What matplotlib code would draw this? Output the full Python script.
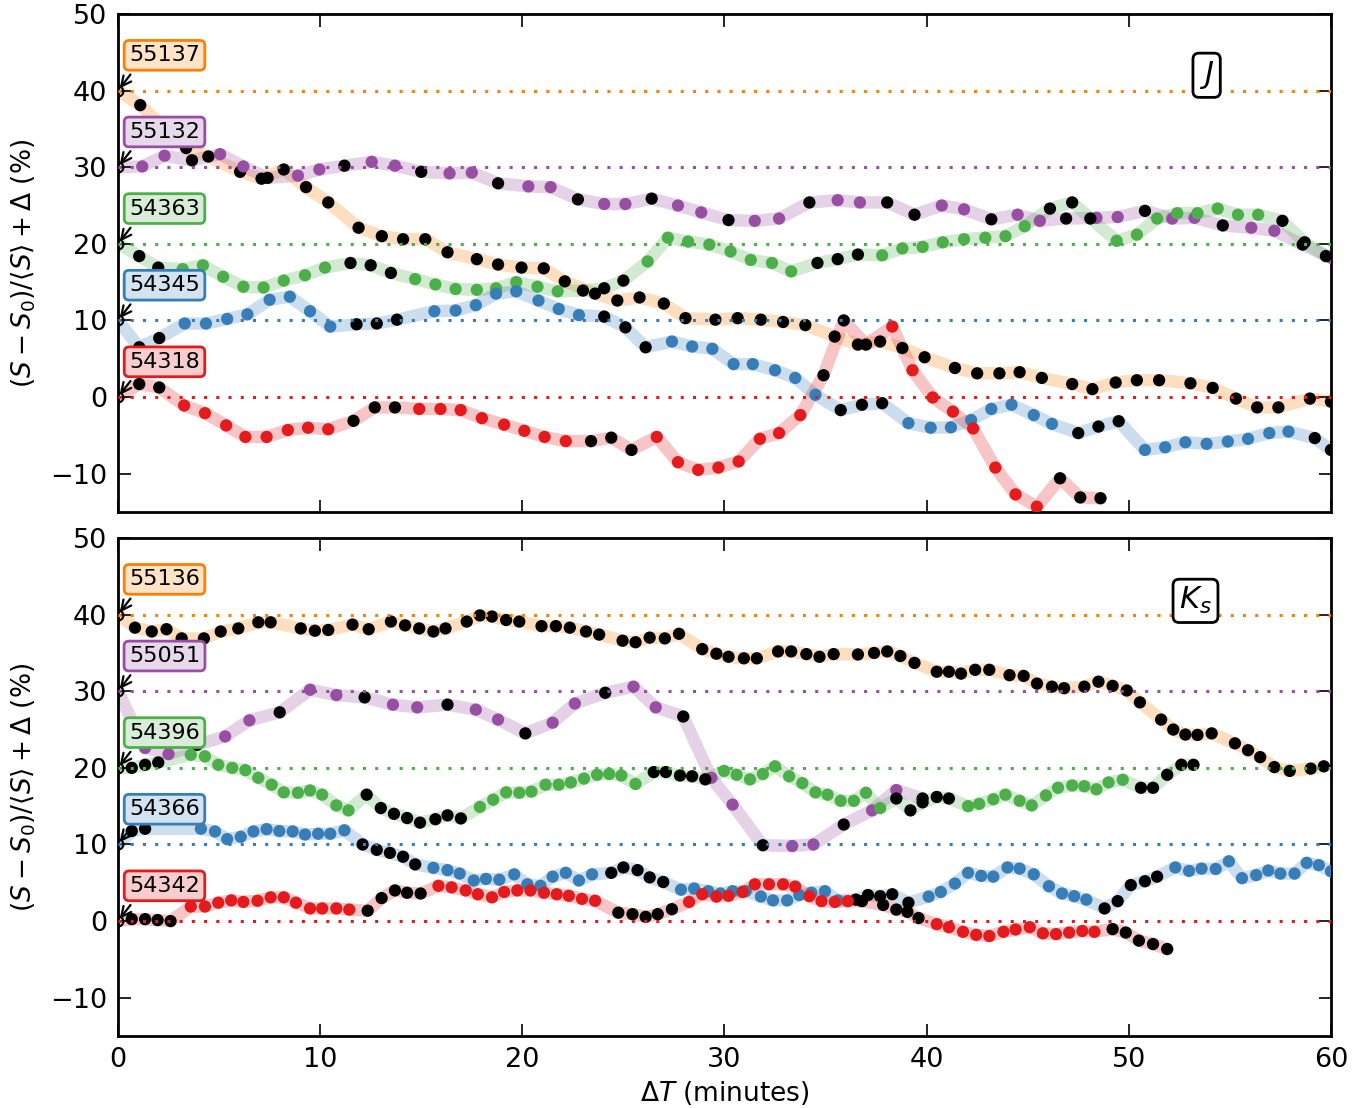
import matplotlib

matplotlib.use("Agg")
import matplotlib.pyplot as plt
from matplotlib.colors import to_rgb

# Set1-like colours
RED, BLUE, GREEN, PURPLE, ORANGE = "#e41a1c", "#377eb8", "#4daf4a", "#984ea3", "#ff7f00"

# ---- J band ----------------------------------------------------------------
j_orange_t = [0, 1.1, 3.37, 4.47, 6.04, 7.1, 8.2, 9.3, 10.4, 11.9, 13.05, 14.1, 15.2, 16.3, 17.75,
              18.8, 19.96, 21.06, 22.1, 23.6, 24.7, 25.8, 27.0, 28.07, 29.55, 30.65, 31.8, 32.9, 34.0,
              35.45, 36.6, 37.7, 38.8, 39.9, 41.4, 42.5, 43.6, 44.6, 45.7, 47.2, 48.2, 49.35, 50.4,
              51.5, 53.05, 54.15, 55.3, 56.35, 57.4, 58.96, 60]
j_orange_y = [40, 38.1, 32.5, 31.4, 29.4, 28.5, 29.7, 27.4, 25.4, 22.1, 21.0, 20.6, 20.6, 18.9, 18.0,
              17.3, 16.9, 16.8, 15.1, 13.5, 12.6, 13.0, 12.2, 10.3, 10.1, 10.3, 10.1, 9.8, 9.4,
              7.9, 6.85, 7.25, 6.4, 5.2, 3.8, 3.1, 3.1, 3.25, 2.5, 1.7, 1.04, 1.9, 2.2,
              2.2, 1.8, 1.2, -0.2, -1.35, -1.35, -0.2, -0.6]
j_orange_f = "o" + "k" * 50

j_purple_t = [0, 1.2, 2.3, 3.66, 5.05, 6.2, 7.4, 8.9, 9.96, 11.2, 12.55, 13.7, 15.0, 16.4, 17.5, 18.8,
              20.3, 21.4, 22.75, 24.05, 25.1, 26.4, 27.7, 28.85, 30.2, 31.5, 32.7, 34.2, 35.6, 36.7,
              38.05, 39.4, 40.75, 41.85, 43.2, 44.5, 45.6, 46.9, 48.4, 49.45, 50.8, 52.15, 53.25,
              54.65, 56.06, 57.2, 58.6, 60]
j_purple_y = [30, 30.1, 31.5, 30.9, 31.7, 30.1, 28.6, 28.9, 29.7, 30.2, 30.7, 30.2, 29.4, 29.2, 29.3, 27.9,
              27.5, 27.4, 25.8, 25.2, 25.2, 25.9, 25.0, 24.1, 23.1, 23.0, 23.3, 25.4, 25.7, 25.4,
              25.4, 23.8, 25.0, 24.5, 23.2, 23.8, 23.0, 23.3, 23.4, 23.5, 24.3, 23.3, 23.4,
              22.4, 22.1, 21.7, 19.9, 18.2]
j_purple_f = "occkcckcckcckcckcckcckcckcckcckkcckcckcckcckcckc"

j_green_t = [0, 1.05, 1.99, 3.2, 4.2, 5.2, 6.2, 7.2, 8.2, 9.25, 10.24, 11.5, 12.5, 13.5, 14.7, 15.7,
             16.7, 17.75, 18.7, 19.7, 20.75, 21.75, 23.0, 24.05, 25.0, 26.2, 27.2, 28.2, 29.25, 30.3,
             31.3, 32.35, 33.3, 34.6, 35.6, 36.6, 37.8, 38.8, 39.8, 40.8, 41.85, 42.9, 43.9, 44.85,
             46.1, 47.2, 48.1, 49.4, 50.4, 51.4, 52.4, 53.4, 54.4, 55.4, 56.4, 57.6, 58.7, 59.75]
j_green_y = [20, 18.4, 16.9, 16.7, 17.2, 15.7, 14.4, 14.3, 15.2, 15.9, 16.9, 17.5, 17.2, 16.2, 15.4, 14.7,
             14.1, 14.0, 14.2, 15.0, 14.4, 13.8, 13.9, 14.2, 15.2, 17.7, 20.8, 20.3, 19.9, 19.0,
             17.9, 17.5, 16.4, 17.5, 18.0, 18.6, 18.5, 19.4, 19.6, 20.2, 20.6, 20.8, 21.0, 22.3,
             24.6, 25.4, 23.3, 20.4, 21.2, 23.3, 24.0, 24.0, 24.6, 23.8, 23.8, 23.0, 20.2, 18.4]
j_green_f = "okk" + "cccccccckkk" * 5

j_blue_t = [0, 1.05, 2.04, 3.3, 4.35, 5.4, 6.4, 7.5, 8.5, 9.5, 10.5, 11.8, 12.8, 13.8, 15.65, 16.7,
            17.7, 18.7, 19.7, 20.8, 21.8, 22.8, 24.05, 25.1, 26.1, 27.4, 28.4, 29.4, 30.45, 31.4,
            32.5, 33.5, 34.5, 35.75, 36.8, 37.8, 39.1, 40.2, 41.2, 42.2, 43.2, 44.2, 45.3, 46.2,
            47.5, 48.5, 49.5, 50.8, 51.8, 52.8, 53.85, 54.9, 55.9, 56.95, 57.9, 59.2, 60]
j_blue_y = [10, 6.5, 7.7, 9.6, 9.6, 10.2, 10.8, 12.7, 13.1, 11.2, 9.2, 9.5, 9.6, 10.1, 11.2, 11.3,
            12.0, 13.5, 13.8, 12.6, 11.5, 10.7, 10.5, 9.1, 6.5, 7.25, 6.6, 6.3, 4.3, 4.3,
            3.5, 2.5, 0.3, -1.7, -1.0, -0.8, -3.4, -4.0, -3.95, -3.0, -1.55, -1.0, -2.35, -3.5,
            -4.7, -3.85, -3.15, -6.9, -6.55, -5.9, -6.1, -5.8, -5.45, -4.7, -4.5, -5.35, -6.9]
j_blue_f = "okk" + "cccccccckkk" * 4 + "cccccccckk"

j_red_t = [0, 1.05, 2.04, 3.27, 4.3, 5.35, 6.3, 7.35, 8.4, 9.4, 10.4, 11.65, 12.7, 13.7, 14.9, 15.95,
           16.95, 18.0, 19.1, 20.1, 21.1, 22.15, 23.4, 24.4, 25.4, 26.65, 27.7, 28.7, 29.7, 30.7,
           31.75, 32.7, 33.75, 34.9, 35.9, 37.0, 38.3, 39.3, 40.3, 41.3, 42.3, 43.4, 44.4, 45.45,
           46.6, 47.6, 48.6]
j_red_y = [0, 1.7, 1.25, -1.1, -2.1, -3.7, -5.2, -5.2, -4.3, -4.0, -4.2, -3.1, -1.35, -1.35, -1.55, -1.55,
           -1.7, -2.75, -3.6, -4.4, -5.2, -5.75, -5.75, -5.3, -6.9, -5.2, -8.5, -9.5, -9.2, -8.4,
           -5.45, -4.7, -2.35, 2.85, 10.0, 6.85, 9.2, 3.5, -0.05, -1.9, -4.1, -9.2, -12.7, -14.3,
           -10.6, -13.1, -13.2]
j_red_f = "okk" + "cccccccckkk" * 4

# ---- Ks band ---------------------------------------------------------------
k_orange_t = [0, 0.84, 1.67, 2.4, 3.15, 4.25, 5.08, 5.95, 6.94, 7.55, 9.04, 9.74, 10.4, 11.6, 12.4,
              13.5, 14.2, 14.9, 15.6, 16.2, 17.25, 17.9, 18.5, 19.2, 19.85, 20.95, 21.66, 22.35, 23.15,
              23.8, 24.96, 25.6, 26.3, 27.05, 27.75, 28.9, 29.6, 30.2, 30.96, 31.6, 32.65, 33.3, 34.05,
              34.7, 35.4, 36.6, 37.4, 38.05, 38.7, 39.4, 40.5, 41.1, 41.7, 42.4, 43.1, 44.1, 44.8,
              45.46, 46.2, 46.8, 47.8, 48.5, 49.2, 49.9, 50.55, 51.6, 52.2, 52.8, 53.4, 54.1, 55.25,
              55.9, 56.5, 57.2, 57.96, 59.0, 59.65]
k_orange_y = [40, 38.3, 37.8, 38.1, 36.9, 36.9, 37.8, 38.2, 39.0, 39.0, 38.2, 37.9, 38.0, 38.7, 38.1,
              39.1, 38.6, 38.2, 37.8, 38.2, 39.1, 39.9, 39.75, 39.3, 39.1, 38.5, 38.5, 38.3, 37.8,
              37.4, 36.6, 36.4, 37.0, 36.9, 37.5, 35.5, 34.9, 34.5, 34.3, 34.3, 35.2, 35.2, 34.85,
              34.5, 34.85, 34.8, 35.0, 35.2, 34.6, 33.7, 32.55, 32.55, 32.3, 32.8, 32.8, 32.1, 32.0,
              31.0, 30.6, 30.4, 30.6, 31.25, 30.7, 30.1, 28.55, 26.3, 25.0, 24.35, 24.3, 24.5, 23.2,
              22.3, 21.4, 20.1, 19.6, 19.9, 20.2]
k_orange_f = "o" + "k" * 76

k_purple_t = [0, 1.34, 2.5, 3.9, 5.3, 6.5, 8.0, 9.5, 10.8, 12.2, 13.6, 14.8, 16.3, 17.7, 18.8, 20.15,
              21.5, 22.6, 24.1, 25.5, 26.6, 27.96, 29.35, 30.4, 31.9, 33.35, 34.4, 35.9, 37.3, 38.5,
              39.8]
k_purple_y = [30, 22.6, 21.8, 23.0, 24.1, 26.2, 27.25, 30.2, 29.5, 29.2, 28.25, 27.9, 28.25, 27.6, 26.3,
              24.5, 25.9, 28.4, 29.8, 30.6, 27.9, 26.7, 18.7, 15.2, 9.9, 9.8, 10.0, 12.6, 14.45, 17.1,
              16.0]
k_purple_f = "o" + "cck" * 10

k_green_t = [0, 0.68, 1.34, 1.99, 3.6, 4.3, 4.96, 5.65, 6.3, 6.94, 7.6, 8.2, 8.9, 9.5, 10.1, 10.8,
             11.4, 12.3, 13.0, 13.65, 14.3, 14.94, 15.7, 16.3, 16.96, 17.9, 18.56, 19.2, 19.85, 20.45,
             21.15, 21.8, 22.4, 23.05, 23.7, 24.3, 24.9, 25.6, 26.5, 27.1, 27.8, 28.4, 29.05, 29.98,
             30.6, 31.26, 31.9, 32.5, 33.2, 33.85, 34.5, 35.1, 35.75, 36.4, 37.0, 37.7, 38.5, 39.2,
             39.8, 40.5, 41.1, 42.05, 42.6, 43.3, 43.9, 44.6, 45.2, 45.9, 46.5, 47.2, 47.8, 48.4,
             49.0, 49.7, 50.6, 51.2, 51.9, 52.6, 53.2]
k_green_y = [20, 20.0, 20.4, 20.7, 21.7, 21.5, 20.4, 20.0, 19.7, 18.7, 17.8, 16.8, 16.75, 17.05, 16.5, 15.1,
             14.45, 16.5, 14.75, 14.0, 13.45, 12.85, 13.3, 13.8, 13.4, 14.9, 15.85, 16.8, 16.75, 16.9,
             17.8, 17.8, 18.1, 18.6, 19.1, 19.2, 19.0, 17.9, 19.45, 19.45, 19.0, 18.9, 18.5, 19.6,
             19.1, 18.5, 19.2, 20.2, 18.9, 18.0, 16.8, 16.5, 15.7, 15.7, 16.75, 14.75, 16.0, 14.45,
             15.5, 16.2, 16.0, 15.0, 15.3, 15.9, 16.5, 15.7, 15.1, 16.4, 17.4, 17.7, 17.6, 17.2,
             18.1, 18.45, 17.4, 17.4, 19.1, 20.4, 20.4]
k_green_f = ("okkk" + "c" * 13 + "k" * 8 + "c" * 13 + "k" * 5 + "c" * 13 + "k" * 5
             + "c" * 13 + "k" * 5)

k_blue_t = [0, 0.68, 1.34, 4.1, 4.8, 5.4, 6.07, 6.7, 7.35, 7.98, 8.64, 9.25, 9.9, 10.5, 11.2, 12.1,
            12.8, 13.45, 14.1, 14.7, 15.6, 16.3, 16.9, 17.6, 18.2, 18.86, 19.6, 20.25, 20.9, 21.5,
            22.15, 22.8, 23.45, 24.4, 25.0, 25.7, 26.3, 26.97, 27.85, 28.5, 29.2, 29.8, 30.4, 31.05,
            31.8, 32.4, 33.1, 33.7, 34.3, 34.97, 35.6, 36.5, 37.1, 37.7, 38.3, 39.1, 40.1, 40.7,
            41.4, 42.05, 42.7, 43.3, 44.0, 44.6, 45.3, 46.05, 46.7, 47.3, 47.9, 48.8, 49.45, 50.1,
            50.8, 51.4, 52.3, 52.98, 53.6, 54.3, 54.95, 55.6, 56.3, 56.9, 57.5, 58.2, 58.8, 59.4, 60]
k_blue_y = [10, 11.75, 12.05, 12.05, 11.7, 10.7, 11.0, 11.7, 12.0, 11.75, 11.7, 11.3, 11.4, 11.4, 11.85, 10.0,
            9.3, 8.9, 8.4, 7.4, 6.95, 6.65, 6.2, 5.3, 5.5, 5.4, 6.1, 4.8, 4.6, 5.8,
            6.3, 5.3, 6.1, 6.3, 7.0, 6.65, 5.7, 5.1, 4.1, 4.25, 3.9, 3.6, 3.9, 3.9,
            3.2, 2.7, 2.7, 3.4, 3.7, 3.9, 2.7, 2.8, 3.4, 3.25, 3.5, 2.4, 3.2, 3.8,
            4.9, 6.3, 5.9, 5.8, 7.0, 6.85, 6.1, 4.55, 3.6, 3.25, 2.8, 1.65, 2.6, 4.7,
            5.2, 5.8, 7.0, 6.55, 6.85, 6.8, 7.8, 5.6, 6.0, 6.6, 6.2, 6.2, 7.6, 7.3, 6.5]
k_blue_f = "okk" + "c" * 12 + ("k" * 5 + "c" * 13) * 4

k_red_t = [0, 0.68, 1.34, 1.96, 2.6, 3.6, 4.3, 4.96, 5.6, 6.2, 6.9, 7.55, 8.2, 8.8, 9.5, 10.1, 10.8,
           11.44, 12.35, 13.04, 13.7, 14.3, 14.97, 15.85, 16.5, 17.2, 17.8, 18.5, 19.1, 19.75, 20.4,
           21.07, 21.7, 22.3, 22.95, 23.6, 24.75, 25.45, 26.1, 26.7, 27.4, 28.25, 28.9, 29.6, 30.2,
           30.9, 31.5, 32.2, 32.9, 33.5, 34.2, 34.8, 35.46, 36.1, 36.8, 37.85, 38.5, 39.05, 39.6,
           40.5, 41.1, 41.8, 42.45, 43.1, 43.8, 44.4, 45.1, 45.75, 46.4, 47.05, 47.7, 48.3, 49.2,
           49.85, 50.5, 51.2, 51.9]
k_red_y = [0, 0.25, 0.25, 0.13, 0.0, 1.9, 1.9, 2.4, 2.7, 2.5, 2.65, 3.1, 3.1, 2.4, 1.65, 1.65, 1.65,
           1.5, 1.35, 3.0, 4.0, 3.7, 3.6, 4.6, 4.4, 4.0, 3.5, 3.1, 3.8, 4.0, 4.0,
           3.7, 3.5, 3.3, 2.9, 2.65, 1.1, 0.9, 0.55, 0.9, 1.55, 2.5, 3.5, 3.2, 3.3,
           3.8, 4.8, 4.8, 4.8, 4.5, 3.25, 2.6, 2.5, 2.6, 2.6, 2.1, 1.5, 1.2, 0.4,
           -0.4, -0.8, -1.4, -1.8, -1.95, -1.4, -1.1, -0.8, -1.6, -1.7, -1.5, -1.3, -1.4, -1.05,
           -1.5, -2.55, -3.0, -3.65]
k_red_f = "okkkk" + ("c" * 13 + "k" * 5) * 4

# (name, colour, offset, times, values, flags)
J_SERIES = [
    ("55137", ORANGE, 40, j_orange_t, j_orange_y, j_orange_f),
    ("55132", PURPLE, 30, j_purple_t, j_purple_y, j_purple_f),
    ("54363", GREEN, 20, j_green_t, j_green_y, j_green_f),
    ("54345", BLUE, 10, j_blue_t, j_blue_y, j_blue_f),
    ("54318", RED, 0, j_red_t, j_red_y, j_red_f),
]
K_SERIES = [
    ("55136", ORANGE, 40, k_orange_t, k_orange_y, k_orange_f),
    ("55051", PURPLE, 30, k_purple_t, k_purple_y, k_purple_f),
    ("54396", GREEN, 20, k_green_t, k_green_y, k_green_f),
    ("54366", BLUE, 10, k_blue_t, k_blue_y, k_blue_f),
    ("54342", RED, 0, k_red_t, k_red_y, k_red_f),
]


def light(color, amount=0.22):
    r, g, b = to_rgb(color)
    return (1 - amount * (1 - r), 1 - amount * (1 - g), 1 - amount * (1 - b))


def draw_panel(ax, series, band):
    for name, color, offset, ts, ys, flags in series:
        if not (len(ts) == len(ys) == len(flags)):
            raise RuntimeError(f"{name}: {len(ts)} {len(ys)} {len(flags)}")
        ax.plot(ts, ys, color=color, lw=9, alpha=0.25, solid_capstyle="round",
                solid_joinstyle="round", zorder=1)
        col = [(t, y) for t, y, f in zip(ts, ys, flags) if f == "c"]
        blk = [(t, y) for t, y, f in zip(ts, ys, flags) if f == "k"]
        if col:
            ax.scatter(*zip(*col), s=78, color=color, edgecolors="none", zorder=3)
        if blk:
            ax.scatter(*zip(*blk), s=78, color="k", edgecolors="none", zorder=3)
        ring = [(t, y) for t, y, f in zip(ts, ys, flags) if f == "o"]
        ax.plot(*zip(*ring), "o", mfc="none", mec="k", ms=7, mew=1.5, zorder=4)
        ax.axhline(offset, color=color, ls=(0, (1, 3)), lw=2.2, zorder=5)
        ax.annotate(name, xy=(0, offset), xytext=(2.3, offset + 4.6),
                    ha="center", va="center", fontsize=16, zorder=6,
                    bbox=dict(boxstyle="round,pad=0.22", fc=light(color), ec=color, lw=2),
                    arrowprops=dict(arrowstyle="->,head_length=0.45,head_width=0.22",
                                    color="k", lw=1.6, relpos=(0.12, 0.0),
                                    shrinkA=3, shrinkB=2))
    ax.text(band[1], band[2], band[0], ha="center", va="center", fontsize=22, zorder=6,
            bbox=dict(boxstyle="round,pad=0.2", fc="white", ec="k", lw=2))

    ax.set_xlim(0, 60)
    ax.set_ylim(-15, 50)
    ax.set_xticks(range(0, 61, 10))
    ax.set_yticks(range(-10, 51, 10))
    ax.tick_params(direction="in", length=9, width=1.2, top=True, right=True,
                   labelsize=19.5, pad=8)
    for sp in ax.spines.values():
        sp.set_linewidth(2)
    ax.set_ylabel(r"$(S-S_0)/\langle S\rangle+\Delta$ (%)", fontsize=19)


fig = plt.figure(figsize=(13.69, 11.08), dpi=100)
ax1 = fig.add_axes([0.0862, 0.5379, 0.886, 0.4495])
ax2 = fig.add_axes([0.0862, 0.0650, 0.886, 0.4494])

draw_panel(ax1, J_SERIES, ("$J$", 53.85, 42.0))
draw_panel(ax2, K_SERIES, ("$K_s$", 53.3, 41.8))
ax1.set_xticklabels([])
ax2.set_xlabel(r"$\Delta T$ (minutes)", fontsize=19, labelpad=4)
ax1.yaxis.set_label_coords(-0.066, 0.5)
ax2.yaxis.set_label_coords(-0.066, 0.5)

fig.savefig("out.png", dpi=100)
